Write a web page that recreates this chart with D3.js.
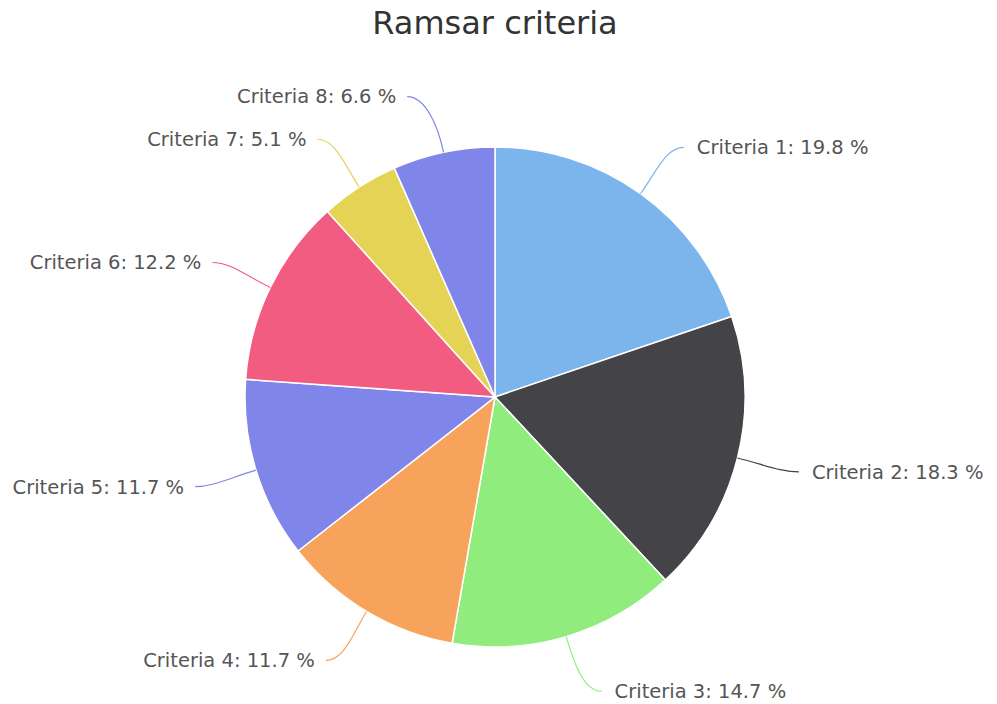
<!DOCTYPE html>
<html>
<head>
<meta charset="utf-8">
<script src="https://cdn.jsdelivr.net/npm/d3@7"></script>
<style>
  body { margin: 0; background: #fff; }
  svg { font-family: "DejaVu Sans", Verdana, sans-serif; }
</style>
</head>
<body>
<div class="chart"></div>
<script>
const names = ["Criteria 1", "Criteria 2", "Criteria 3", "Criteria 4",
               "Criteria 5", "Criteria 6", "Criteria 7", "Criteria 8"]
const shares = [19.8, 18.3, 14.7, 11.7, 11.7, 12.2, 5.1, 6.6]
const colors = ["#7cb5ec", "#434348", "#90ed7d", "#f7a35c",
                "#8085e9", "#f15c80", "#e4d354", "#8085e9"]

const width = 997, height = 704
const cx = 495, cy = 397, r = 250
const labelRy = 307   // vertical placement of labels
const labelRx = 313   // circle the connector ends lie on

const svg = d3.select(".chart")
  .append("svg")
    .attr("width", width)
    .attr("height", height)

svg.append("text")
  .attr("x", cx)
  .attr("y", 34)
  .attr("text-anchor", "middle")
  .style("font-size", "32px")
  .style("fill", "#333333")
  .text("Ramsar criteria")

const g = svg.append("g")
  .attr("transform", `translate(${cx},${cy})`)

const pie = d3.pie().sort(null).value(d => d)
const arcs = pie(shares)
const arc = d3.arc().innerRadius(0).outerRadius(r)

g.selectAll("path.slice")
  .data(arcs)
  .join("path")
    .attr("class", "slice")
    .attr("d", arc)
    .style("fill", (d, i) => colors[i])
    .style("stroke", "#fff")
    .style("stroke-width", 1.5)

// connectors and labels
const mid = d => (d.startAngle + d.endAngle) / 2

arcs.forEach(function(d, i){
    let a = mid(d)
    let right = Math.sin(a) >= 0
    let ex = r * Math.sin(a), ey = -r * Math.cos(a)
    let bx = (r + 28) * Math.sin(a), by = -(r + 28) * Math.cos(a)
    let ly = -labelRy * Math.cos(a)
    let lx = Math.sqrt(labelRx * labelRx - ly * ly) * (right ? 1 : -1)
    let cx2 = lx + (right ? -18 : 18)

    g.append("path")
      .attr("d", `M${ex},${ey} C${bx},${by} ${cx2},${ly} ${lx},${ly}`)
      .style("fill", "none")
      .style("stroke", colors[i])
      .style("stroke-width", 1.2)

    g.append("text")
      .attr("x", right ? lx + 13 : lx - 11)
      .attr("y", ly)
      .attr("dy", "0.35em")
      .attr("text-anchor", right ? "start" : "end")
      .style("font-size", "19.5px")
      .style("fill", "#555555")
      .text(names[i] + ": " + shares[i] + " %")
})
</script>
</body>
</html>
